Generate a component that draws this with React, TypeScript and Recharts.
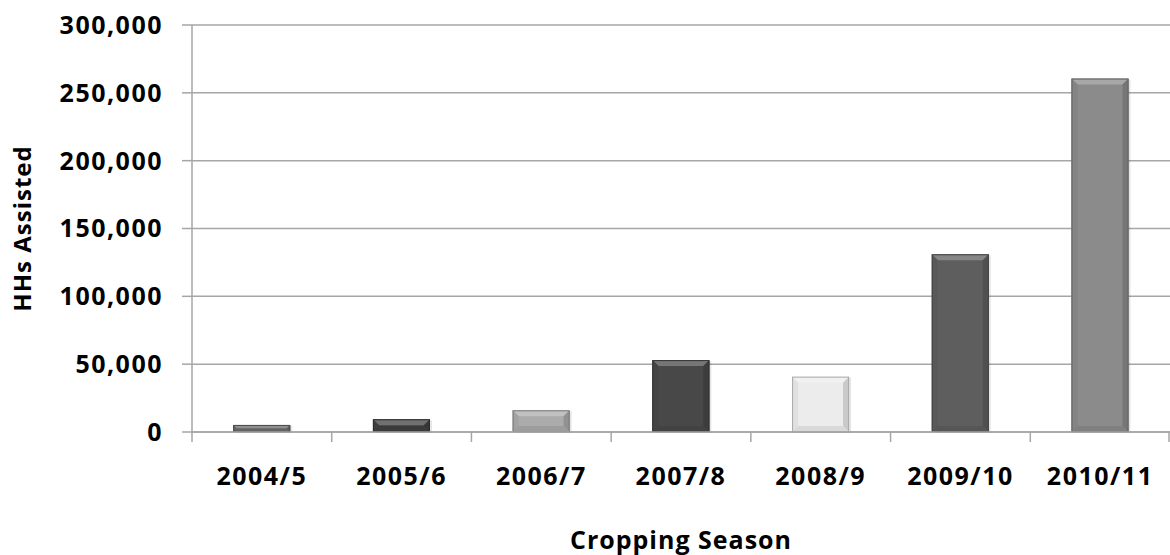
import React from 'react';
import { BarChart, Bar, XAxis, YAxis, CartesianGrid, Cell, Label } from 'recharts';

const seasons = ['2004/5', '2005/6', '2006/7', '2007/8', '2008/9', '2009/10', '2010/11'];
const households = [5200, 9400, 16000, 53000, 40800, 131000, 260500];
const barColors = ['#6a6a6a', '#404040', '#ababab', '#484848', '#ececec', '#5e5e5e', '#8b8b8b'];
const yTicks = [0, 50000, 100000, 150000, 200000, 250000, 300000];

const data = seasons.map((s, i) => ({ season: s, value: households[i] }));

const FONT = '"Open Sans", Lato, sans-serif';
const AXIS_GRAY = '#a6a6a6';

function shade(hex: string, amt: number): string {
  const n = parseInt(hex.slice(1), 16);
  let r = (n >> 16) & 255, g = (n >> 8) & 255, b = n & 255;
  const f = (c: number) => Math.max(0, Math.min(255, Math.round(amt >= 0 ? c + (255 - c) * amt : c * (1 + amt))));
  r = f(r); g = f(g); b = f(b);
  return `rgb(${r},${g},${b})`;
}

const BevelBar = (props: any) => {
  const { x, y, width, height, fill } = props;
  if (!height || height <= 0) return null;
  const b = Math.min(6, height / 2, width / 2);
  return (
    <g>
      <rect x={x + 2} y={y + 1} width={width} height={height} fill="rgba(0,0,0,0.10)" />
      <rect x={x} y={y} width={width} height={height} fill={fill} />
      <polygon points={`${x},${y} ${x + width},${y} ${x + width - b},${y + b} ${x + b},${y + b}`} fill={shade(fill, 0.25)} />
      <polygon points={`${x},${y} ${x + b},${y + b} ${x + b},${y + height - b} ${x},${y + height}`} fill={shade(fill, -0.05)} />
      <polygon points={`${x + width},${y} ${x + width - b},${y + b} ${x + width - b},${y + height - b} ${x + width},${y + height}`} fill={shade(fill, -0.15)} />
      <polygon points={`${x},${y + height} ${x + b},${y + height - b} ${x + width - b},${y + height - b} ${x + width},${y + height}`} fill={shade(fill, -0.08)} />
      <rect x={x + 0.5} y={y + 0.5} width={width - 1} height={height - 1} fill="none" stroke={shade(fill, -0.28)} strokeWidth={1} />
    </g>
  );
};

const TICK_FONT = { fontFamily: FONT, fontWeight: 700, fontSize: 25, fill: '#000', letterSpacing: 1.5 };

const CategoryTick = (props: any) => {
  const { x, y, payload, width, visibleTicksCount, index } = props;
  const half = payload && payload.offset ? payload.offset : width / ((visibleTicksCount || 7) * 2);
  const axisY = y - 35;
  const isLast = index === (visibleTicksCount || 7) - 1;
  return (
    <g>
      <line x1={x - half} x2={x - half} y1={axisY} y2={axisY + 10} stroke={AXIS_GRAY} strokeWidth={1.5} />
      {isLast && (
        <line x1={x + half - 1} x2={x + half - 1} y1={axisY} y2={axisY + 10} stroke={AXIS_GRAY} strokeWidth={1.5} />
      )}
      <text x={x} y={y} dy="0.71em" textAnchor="middle" style={TICK_FONT}>
        {payload.value}
      </text>
    </g>
  );
};

export default function App() {
  return (
    <div style={{ position: 'absolute', left: 0, top: 0, width: 1170, height: 555, background: '#fff' }}>
      <BarChart
        width={1170}
        height={555}
        data={data}
        margin={{ top: 25, right: 0, left: 0, bottom: 0 }}
        barCategoryGap="29.5%"
      >
        <CartesianGrid vertical={false} stroke={AXIS_GRAY} strokeWidth={1.5} />
        <XAxis
          dataKey="season"
          height={123}
          axisLine={{ stroke: AXIS_GRAY, strokeWidth: 1.5 }}
          tickLine={false}
          tickSize={0}
          tick={<CategoryTick />}
          tickMargin={35}
          interval={0}
        >
          <Label
            value="Cropping Season"
            position="insideBottom"
            offset={6}
            style={{ fontFamily: FONT, fontWeight: 700, fontSize: 25, fill: '#000', letterSpacing: 1 }}
          />
        </XAxis>
        <YAxis
          width={192}
          domain={[0, 300000]}
          ticks={yTicks}
          interval={0}
          tickFormatter={(v: number) => v.toLocaleString('en-US')}
          axisLine={{ stroke: AXIS_GRAY, strokeWidth: 1.5 }}
          tickLine={{ stroke: AXIS_GRAY, strokeWidth: 1.5 }}
          tickSize={10}
          tickMargin={19}
          tick={TICK_FONT}
        >
          <Label
            value="HHs Assisted"
            angle={-90}
            position="insideLeft"
            offset={22}
            style={{ textAnchor: 'middle', fontFamily: FONT, fontWeight: 700, fontSize: 24, fill: '#000', letterSpacing: 1 }}
          />
        </YAxis>
        <Bar dataKey="value" shape={<BevelBar />} isAnimationActive={false}>
          {data.map((d, i) => (
            <Cell key={d.season} fill={barColors[i]} />
          ))}
        </Bar>
      </BarChart>
    </div>
  );
}
